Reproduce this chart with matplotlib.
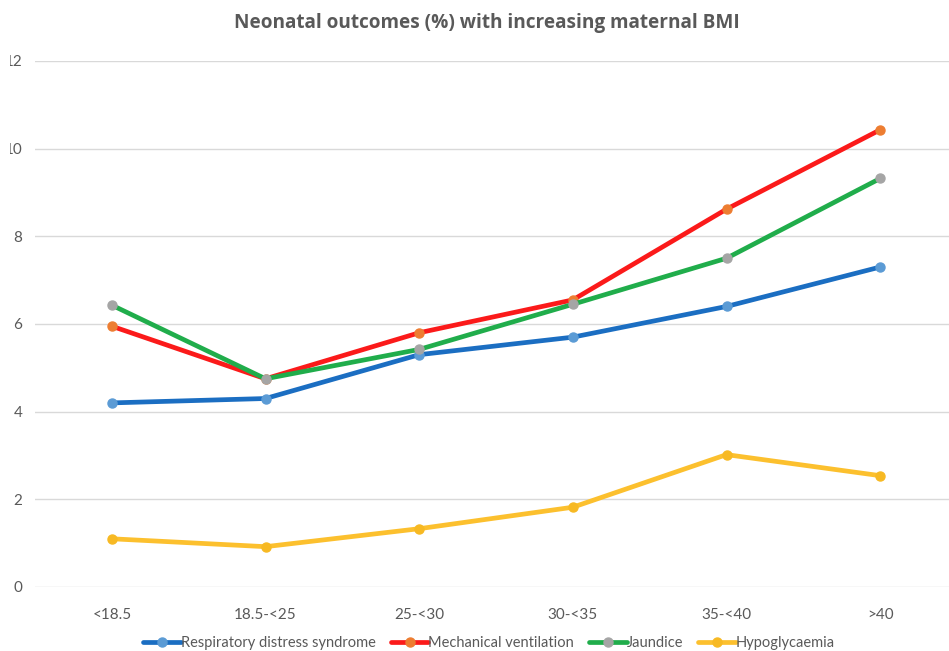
import matplotlib
matplotlib.use('Agg')
import matplotlib.pyplot as plt
from matplotlib.patches import Rectangle

plt.rcParams['font.family'] = ['Lato', 'DejaVu Sans']

# BMI groups and outcome rates (%)
bmi_groups = ['<18.5', '18.5-<25', '25-<30', '30-<35', '35-<40', '>40']
resp_distress = [4.2, 4.3, 5.3, 5.7, 6.4, 7.3]
mech_vent = [5.95, 4.75, 5.8, 6.55, 8.62, 10.43]
jaundice = [6.43, 4.75, 5.42, 6.45, 7.5, 9.32]
hypoglycaemia = [1.1, 0.92, 1.33, 1.82, 3.02, 2.54]
y_ticks = [0, 2, 4, 6, 8, 10, 12]

series = [
    ('Respiratory distress syndrome', resp_distress, '#1b6ec2', '#5b9bd5'),
    ('Mechanical ventilation', mech_vent, '#fb1a1a', '#ed7d31'),
    ('Jaundice', jaundice, '#20ad4b', '#a5a5a5'),
    ('Hypoglycaemia', hypoglycaemia, '#fcc02e', '#f7b923'),
]

grey = '#595959'

fig = plt.figure(figsize=(9.49, 6.51), dpi=100)
ax = fig.add_axes([35 / 949, 1 - 587 / 651, 922 / 949, 526 / 651])

x = list(range(len(bmi_groups)))
for name, vals, lc, mc in series:
    ax.plot(x, vals, color=lc, lw=3.4, marker='o', markersize=6.5,
            markerfacecolor=mc, markeredgecolor=mc, label=name,
            solid_joinstyle='round', solid_capstyle='round', zorder=3)

ax.set_xlim(-0.5, len(bmi_groups) - 0.5)
ax.set_ylim(0, 12)
ax.set_xticks(x)
ax.set_xticklabels(bmi_groups)
ax.set_yticks(y_ticks)
ax.set_yticklabels([str(v) for v in y_ticks])
ax.tick_params(length=0, labelsize=11, colors=grey)
ax.tick_params(axis='x', pad=15)
ax.tick_params(axis='y', pad=9)
ax.grid(axis='y', color='#d9d9d9', lw=1)
ax.set_axisbelow(True)
for s in ax.spines.values():
    s.set_visible(False)

fig.text(487 / 949, 1 - 23 / 651, 'Neonatal outcomes (%) with increasing maternal BMI',
         ha='center', va='center', fontsize=13.7, fontweight='bold',
         family='Open Sans', color=grey)

leg = fig.legend(loc='center', bbox_to_anchor=(489 / 949, 1 - 643 / 651), ncol=4,
                 frameon=False, fontsize=10.5, handlelength=2.6,
                 handletextpad=0.0, columnspacing=1.0, labelcolor=grey)

# left margin of the chart frame
fig.add_artist(Rectangle((0, 0), 10 / 949, 1, transform=fig.transFigure,
                         facecolor='white', edgecolor='none', zorder=10))

fig.savefig('out.png', dpi=100)
